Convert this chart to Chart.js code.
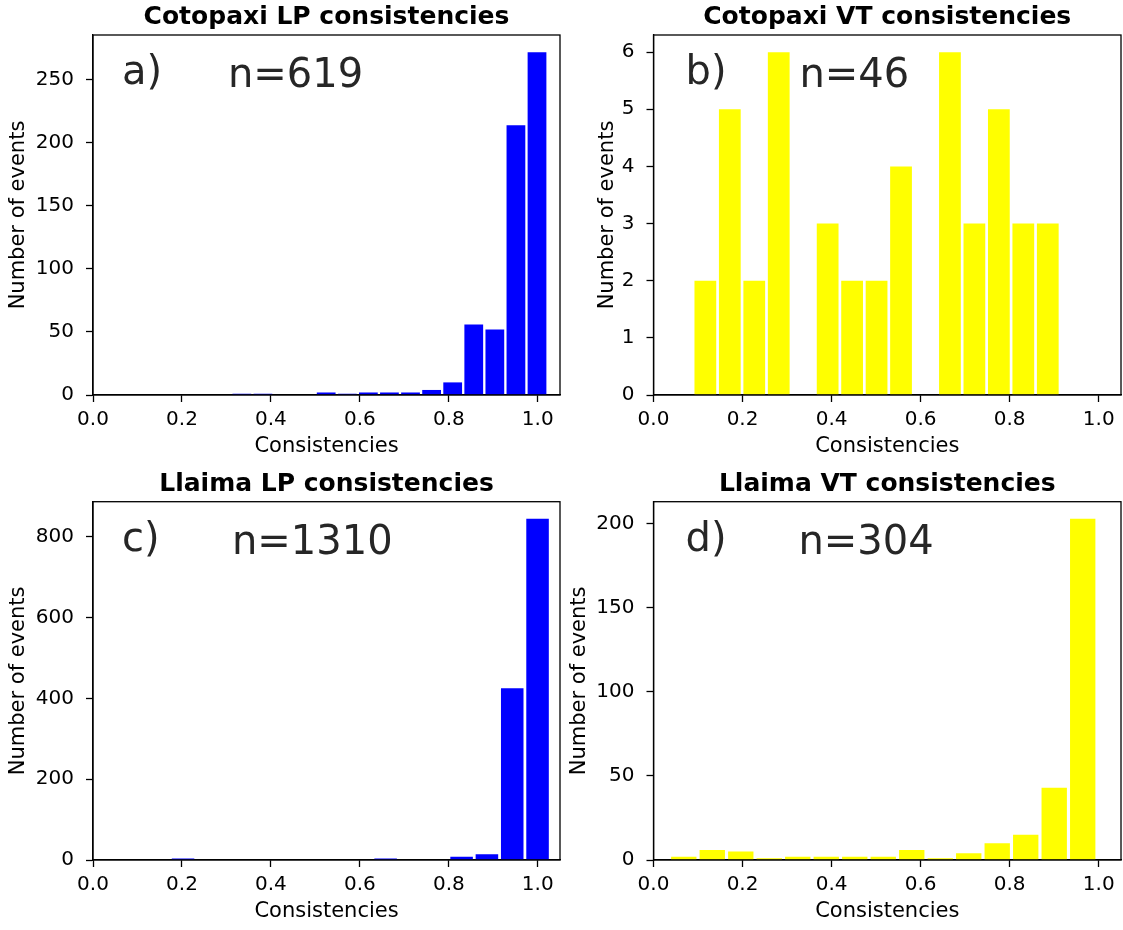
<!DOCTYPE html>
<html>
<head>
<meta charset="utf-8">
<script src="https://cdn.jsdelivr.net/npm/chart.js@4.4.1/dist/chart.umd.min.js"></script>
<style>
  html, body { margin: 0; padding: 0; background: #fff; }
  #wrap { position: relative; width: 1123px; height: 930px; }
  canvas { position: absolute; }
</style>
</head>
<body>
<div id="wrap">
  <canvas id="cotopaxi-lp" width="562" height="465" style="left:0;top:0"></canvas>
  <canvas id="cotopaxi-vt" width="561" height="465" style="left:562px;top:0"></canvas>
  <canvas id="llaima-lp" width="562" height="465" style="left:0;top:465px"></canvas>
  <canvas id="llaima-vt" width="561" height="465" style="left:562px;top:465px"></canvas>
</div>
<script>
// --- DATA ---
// histogram: [first bin edge, last bin edge] + counts per bin (15 bins each)
const cotopaxiLpRange = [0.311, 1.022];
const cotopaxiLpCounts = [1, 1, 0, 0, 2, 1, 2, 2, 2, 4, 10, 56, 52, 214, 272];
const cotopaxiVtRange = [0.089, 0.913];
const cotopaxiVtCounts = [2, 5, 2, 6, 0, 3, 2, 2, 4, 0, 6, 3, 5, 3, 3];
const llaimaLpRange = [0.174, 1.028];
const llaimaLpCounts = [4, 1, 0, 0, 0, 0, 0, 0, 4, 0, 0, 8, 14, 425, 845];
const llaimaVtRange = [0.036, 0.996];
const llaimaVtCounts = [2, 6, 5, 1, 2, 2, 2, 2, 6, 1, 4, 10, 15, 43, 203];

const xTickValues = [0.0, 0.2, 0.4, 0.6, 0.8, 1.0];
const xLimits = [0, 1.05];
const cotopaxiLpYTicks = [0, 50, 100, 150, 200, 250];
const cotopaxiVtYTicks = [0, 1, 2, 3, 4, 5, 6];
const llaimaLpYTicks = [0, 200, 400, 600, 800];
const llaimaVtYTicks = [0, 50, 100, 150, 200];

const panelTitles = ['Cotopaxi LP consistencies', 'Cotopaxi VT consistencies', 'Llaima LP consistencies', 'Llaima VT consistencies'];
const panelTags = ['a)', 'b)', 'c)', 'd)'];
const panelN = ['n=619', 'n=46', 'n=1310', 'n=304'];

// --- TEXTES + CADRE ---
const panelText = {
  id: 'panelText',
  afterDraw(chart, args, o) {
    const { ctx, chartArea: a } = chart;
    const cx = (a.left + a.right) / 2;
    ctx.save();
    ctx.strokeStyle = '#000';
    ctx.lineWidth = 1.3;
    ctx.strokeRect(a.left, a.top, a.right - a.left, a.bottom - a.top);
    ctx.fillStyle = '#000';
    ctx.textAlign = 'center';
    ctx.textBaseline = 'alphabetic';
    ctx.font = 'bold 25px "DejaVu Sans"';
    ctx.fillText(o.title, cx, a.top - 11);
    ctx.font = '21px "DejaVu Sans"';
    ctx.fillText('Consistencies', cx, a.bottom + 57);
    ctx.save();
    ctx.translate(a.left - o.yLabelGap, (a.top + a.bottom) / 2);
    ctx.rotate(-Math.PI / 2);
    ctx.fillText('Number of events', 0, 0);
    ctx.restore();
    ctx.fillStyle = '#262626';
    ctx.textAlign = 'left';
    ctx.font = '40px "DejaVu Sans"';
    ctx.fillText(o.tag, a.left + o.tagDx, a.top + 49);
    ctx.fillText(o.nText, a.left + o.nDx, a.top + 52);
    ctx.restore();
  }
};

function binPoints(range, counts) {
  const w = (range[1] - range[0]) / counts.length;
  return counts.map((c, i) => ({ x: range[0] + (i + 0.5) * w, y: c }));
}

function makePanel(id, idx, range, counts, yTicks, color, box) {
  const yMax = Math.max(...counts) * 1.05;
  return new Chart(document.getElementById(id), {
    type: 'bar',
    data: {
      datasets: [{
        data: binPoints(range, counts),
        backgroundColor: color,
        borderWidth: 0,
        barPercentage: 0.89,
        categoryPercentage: 1.0
      }]
    },
    plugins: [panelText],
    options: {
      responsive: false,
      animation: false,
      events: [],
      layout: { padding: { left: 0, right: box.right, top: box.top, bottom: 0 } },
      scales: {
        x: {
          type: 'linear',
          min: xLimits[0], max: xLimits[1],
          offset: false,
          afterBuildTicks: s => { s.ticks = xTickValues.map(v => ({ value: v })); },
          afterFit: s => { s.height = 70; },
          grid: { display: true, drawOnChartArea: false, offset: false, tickLength: 7, tickColor: '#000', tickWidth: 1.3 },
          border: { display: true, color: '#000', width: 1.3 },
          ticks: { color: '#000', padding: 6, maxRotation: 0, autoSkip: false,
                   font: { family: 'DejaVu Sans', size: 20 },
                   callback: v => v.toFixed(1) }
        },
        y: {
          min: 0, max: yMax,
          afterBuildTicks: s => { s.ticks = yTicks.map(v => ({ value: v })); },
          afterFit: s => { s.width = box.yWidth; },
          grid: { display: true, drawOnChartArea: false, tickLength: 7, tickColor: '#000', tickWidth: 1.3 },
          border: { display: true, color: '#000', width: 1.3 },
          ticks: { color: '#000', padding: 12, autoSkip: false,
                   font: { family: 'DejaVu Sans', size: 20 } }
        }
      },
      plugins: {
        legend: { display: false },
        tooltip: { enabled: false },
        panelText: {
          title: panelTitles[idx], tag: panelTags[idx], nText: panelN[idx],
          tagDx: box.tagDx, nDx: box.nDx, yLabelGap: box.yLabelGap
        }
      }
    }
  });
}

makePanel('cotopaxi-lp', 0, cotopaxiLpRange, cotopaxiLpCounts, cotopaxiLpYTicks, '#0000ff',
  { right: 2, top: 35, yWidth: 93, tagDx: 29, nDx: 135, yLabelGap: 69 });
makePanel('cotopaxi-vt', 1, cotopaxiVtRange, cotopaxiVtCounts, cotopaxiVtYTicks, '#ffff00',
  { right: 2, top: 35, yWidth: 91.5, tagDx: 32, nDx: 146, yLabelGap: 41 });
makePanel('llaima-lp', 2, llaimaLpRange, llaimaLpCounts, llaimaLpYTicks, '#0000ff',
  { right: 2, top: 36.7, yWidth: 93, tagDx: 29, nDx: 139, yLabelGap: 69 });
makePanel('llaima-vt', 3, llaimaVtRange, llaimaVtCounts, llaimaVtYTicks, '#ffff00',
  { right: 2, top: 36.7, yWidth: 91.5, tagDx: 32, nDx: 145, yLabelGap: 69 });
</script>
</body>
</html>
